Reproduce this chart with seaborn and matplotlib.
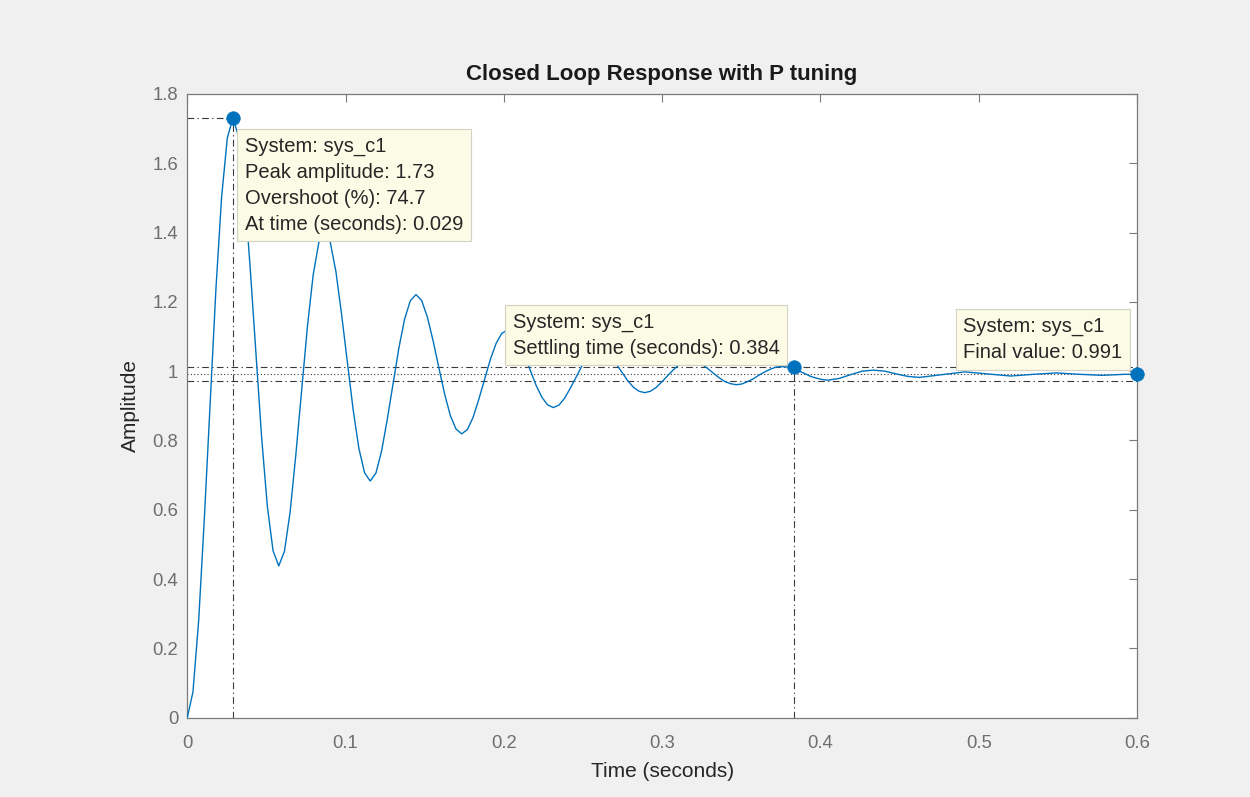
import numpy as np
import pandas as pd
import matplotlib
matplotlib.use("Agg")
from matplotlib import pyplot as plt
import seaborn as sns

# step response (seconds, amplitude)
time_s = [
    0.0000, 0.0036, 0.0072, 0.0108, 0.0145, 0.0181, 0.0217, 0.0253, 0.0289, 0.0325, 0.0361, 0.0397, 0.0434, 0.0470, 0.0506, 0.0542,
    0.0578, 0.0614, 0.0650, 0.0686, 0.0723, 0.0759, 0.0795, 0.0831, 0.0867, 0.0903, 0.0939, 0.0975, 0.1012, 0.1048, 0.1084, 0.1120,
    0.1156, 0.1192, 0.1228, 0.1264, 0.1301, 0.1337, 0.1373, 0.1409, 0.1445, 0.1481, 0.1517, 0.1553, 0.1590, 0.1626, 0.1662, 0.1698,
    0.1734, 0.1770, 0.1806, 0.1842, 0.1879, 0.1915, 0.1951, 0.1987, 0.2023, 0.2059, 0.2095, 0.2131, 0.2168, 0.2204, 0.2240, 0.2276,
    0.2312, 0.2348, 0.2384, 0.2420, 0.2457, 0.2493, 0.2529, 0.2565, 0.2601, 0.2637, 0.2673, 0.2709, 0.2746, 0.2782, 0.2818, 0.2854,
    0.2890, 0.2926, 0.2962, 0.2998, 0.3035, 0.3071, 0.3107, 0.3143, 0.3179, 0.3215, 0.3251, 0.3287, 0.3324, 0.3360, 0.3396, 0.3432,
    0.3468, 0.3504, 0.3540, 0.3576, 0.3613, 0.3649, 0.3685, 0.3721, 0.3757, 0.3793, 0.3829, 0.3865, 0.3902, 0.3938, 0.3974, 0.4010,
    0.4046, 0.4118, 0.4191, 0.4263, 0.4335, 0.4407, 0.4480, 0.4552,
    0.4624, 0.4769, 0.4913, 0.5058, 0.5202, 0.5347, 0.5491, 0.5636,
    0.5780, 0.5925, 0.6000,
]
amplitude = [
    0.000, 0.074, 0.279, 0.575, 0.911, 1.236, 1.502, 1.673, 1.731, 1.676, 1.523, 1.302, 1.050, 0.808, 0.610, 0.482,
    0.438, 0.480, 0.594, 0.759, 0.947, 1.128, 1.276, 1.371, 1.404, 1.373, 1.288, 1.164, 1.024, 0.889, 0.778, 0.707,
    0.683, 0.706, 0.770, 0.862, 0.966, 1.067, 1.150, 1.203, 1.221, 1.204, 1.156, 1.088, 1.009, 0.934, 0.872, 0.833,
    0.819, 0.832, 0.867, 0.919, 0.977, 1.034, 1.080, 1.109, 1.119, 1.110, 1.083, 1.045, 1.001, 0.959, 0.925, 0.903,
    0.895, 0.902, 0.922, 0.951, 0.983, 1.015, 1.040, 1.057, 1.063, 1.057, 1.042, 1.021, 0.997, 0.973, 0.954, 0.942,
    0.938, 0.942, 0.953, 0.969, 0.987, 1.004, 1.019, 1.028, 1.031, 1.028, 1.020, 1.008, 0.994, 0.981, 0.970, 0.964,
    0.961, 0.963, 0.970, 0.978, 0.989, 0.998, 1.006, 1.012, 1.013, 1.012, 1.007, 1.000, 0.993, 0.985, 0.980, 0.976,
    0.974, 0.979, 0.990, 1.000, 1.003, 1.000, 0.992, 0.985,
    0.982, 0.990, 0.998, 0.992, 0.986, 0.991, 0.995, 0.991,
    0.988, 0.991, 0.991,
]

# data tips: peak, settling, final value
tip_time = [0.0289, 0.383, 0.600]
tip_amp = [1.731, 1.011, 0.991]
peak_time, peak_amp = 0.0289, 1.731
settle_time, settle_amp = 0.383, 1.011
final_value = 0.991
band_hi, band_lo = 1.011, 0.971

tip_texts = [
    "System: sys_c1\nPeak amplitude: 1.73\nOvershoot (%): 74.7\nAt time (seconds): 0.029",
    "System: sys_c1\nSettling time (seconds): 0.384",
    "System: sys_c1\nFinal value: 0.991",
]
tip_text_pos = [(0.0364, 1.675), (0.2056, 1.168), (0.4902, 1.156)]

x_ticks = [0, 0.1, 0.2, 0.3, 0.4, 0.5, 0.6]
x_labels = ["0", "0.1", "0.2", "0.3", "0.4", "0.5", "0.6"]
y_ticks = [0, 0.2, 0.4, 0.6, 0.8, 1.0, 1.2, 1.4, 1.6, 1.8]
y_labels = ["0", "0.2", "0.4", "0.6", "0.8", "1", "1.2", "1.4", "1.6", "1.8"]

sns.set_theme(style="white")
plt.rcParams["font.family"] = ["Liberation Sans", "DejaVu Sans"]

fig = plt.figure(figsize=(12.5, 7.97), dpi=100, facecolor="#f0f0f0")
ax = fig.add_axes([0.1498, 0.0995, 0.7598, 0.7826])
ax.set_facecolor("white")

df = pd.DataFrame({"Time": time_s, "Amplitude": amplitude})
sns.lineplot(data=df, x="Time", y="Amplitude", ax=ax, color="#0072BD",
             linewidth=1.0, errorbar=None, zorder=3)

# characteristic lines
ref = dict(color="#3a3a3a", linewidth=0.8, zorder=2)
dashdot = (0, (6, 3, 1.2, 3))
ax.axhline(band_hi, linestyle=dashdot, **ref)
ax.axhline(band_lo, linestyle=dashdot, **ref)
ax.axhline(final_value, linestyle=(0, (1, 2)), **ref)
ax.plot([0, peak_time], [peak_amp, peak_amp], linestyle=dashdot, **ref)
ax.plot([peak_time, peak_time], [0, peak_amp], linestyle=dashdot, **ref)
ax.plot([settle_time, settle_time], [0, settle_amp], linestyle=dashdot, **ref)

sns.scatterplot(x=tip_time, y=tip_amp, ax=ax, s=95, color="#0072BD",
                edgecolor="#0072BD", linewidth=0.5, zorder=7, clip_on=False)

box = dict(boxstyle="square,pad=0.38", fc="#fbfbe6", ec="#d2d2c4", lw=0.8)
for (tx, ty), txt in zip(tip_text_pos, tip_texts):
    ax.text(tx, ty, txt, ha="left", va="top", fontsize=14.5, color="#262626",
            linespacing=1.45, bbox=box, zorder=6)

ax.set_xlim(0, 0.6)
ax.set_ylim(0, 1.8)
ax.set_xticks(x_ticks)
ax.set_xticklabels(x_labels)
ax.set_yticks(y_ticks)
ax.set_yticklabels(y_labels)
ax.tick_params(axis="both", direction="in", length=6, width=0.8, color="#7a7a7a",
               labelcolor="#6e6e6e", labelsize=13.3, top=True, right=True)
ax.tick_params(axis="x", pad=12.5)
ax.tick_params(axis="y", pad=6.5)
for sp in ax.spines.values():
    sp.set_color("#7a7a7a")
    sp.set_linewidth(0.9)

ax.set_title("Closed Loop Response with P tuning", fontsize=16, fontweight="bold",
             color="#1a1a1a", pad=10)
ax.set_xlabel("Time (seconds)", fontsize=15, color="#262626")
ax.set_ylabel("Amplitude", fontsize=15, color="#262626")
ax.xaxis.set_label_coords(0.5, -0.071)
ax.yaxis.set_label_coords(-0.05, 0.5)

fig.savefig("out.png", dpi=100, facecolor=fig.get_facecolor())
